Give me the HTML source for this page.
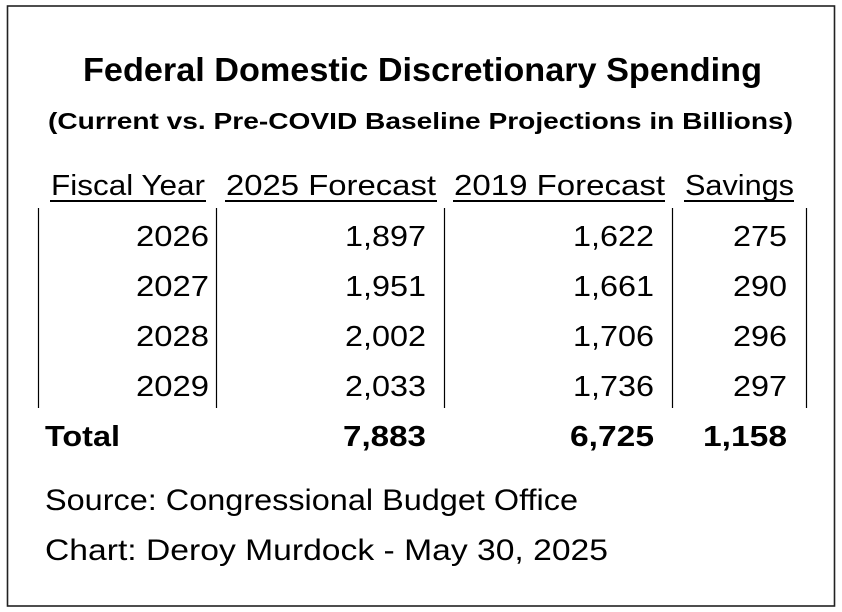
<!DOCTYPE html>
<html>
<head>
<meta charset="utf-8">
<style>
  html, body { margin:0; padding:0; background:#fff; }
  body { width:842px; height:612px; overflow:hidden; }
  svg { display:block; }
  text { font-family: "Liberation Sans", Arial, sans-serif; fill:#000; }
  .b { font-weight:bold; }
</style>
</head>
<body>
<svg width="842" height="612" viewBox="0 0 842 612" xmlns="http://www.w3.org/2000/svg">
  <rect x="0" y="0" width="842" height="612" fill="#fff"/>
  <rect x="7.5" y="6" width="827" height="600" fill="none" stroke="#222" stroke-width="1.6"/>

  <!-- Title -->
  <text class="b" x="83" y="81" font-size="33" textLength="679" lengthAdjust="spacingAndGlyphs">Federal Domestic Discretionary Spending</text>
  <text class="b" x="48" y="129" font-size="23.5" textLength="745" lengthAdjust="spacingAndGlyphs">(Current vs. Pre-COVID Baseline Projections in Billions)</text>

  <!-- Headers -->
  <text x="51" y="195" font-size="29" textLength="154" lengthAdjust="spacingAndGlyphs">Fiscal Year</text>
  <text x="226" y="195" font-size="29" textLength="210" lengthAdjust="spacingAndGlyphs">2025 Forecast</text>
  <text x="454" y="195" font-size="29" textLength="211" lengthAdjust="spacingAndGlyphs">2019 Forecast</text>
  <text x="685" y="195" font-size="29" textLength="109" lengthAdjust="spacingAndGlyphs">Savings</text>

  <!-- Underlines -->
  <rect x="50" y="200" width="156" height="2" fill="#000"/>
  <rect x="225" y="200" width="212" height="2" fill="#000"/>
  <rect x="453" y="200" width="212" height="2" fill="#000"/>
  <rect x="684" y="200" width="110" height="2" fill="#000"/>

  <!-- Vertical lines -->
  <g stroke="#000" stroke-width="1.2">
    <line x1="38.5" y1="208" x2="38.5" y2="408"/>
    <line x1="216.5" y1="208" x2="216.5" y2="408"/>
    <line x1="444.5" y1="208" x2="444.5" y2="408"/>
    <line x1="672.5" y1="208" x2="672.5" y2="408"/>
    <line x1="806.5" y1="208" x2="806.5" y2="408"/>
  </g>

  <!-- Data rows -->
  <g font-size="29">
    <text x="136" y="246" textLength="73" lengthAdjust="spacingAndGlyphs">2026</text>
    <text x="345" y="246" textLength="81" lengthAdjust="spacingAndGlyphs">1,897</text>
    <text x="573" y="246" textLength="81" lengthAdjust="spacingAndGlyphs">1,622</text>
    <text x="733" y="246" textLength="54" lengthAdjust="spacingAndGlyphs">275</text>

    <text x="136" y="296" textLength="73" lengthAdjust="spacingAndGlyphs">2027</text>
    <text x="345" y="296" textLength="81" lengthAdjust="spacingAndGlyphs">1,951</text>
    <text x="573" y="296" textLength="81" lengthAdjust="spacingAndGlyphs">1,661</text>
    <text x="733" y="296" textLength="54" lengthAdjust="spacingAndGlyphs">290</text>

    <text x="136" y="346" textLength="73" lengthAdjust="spacingAndGlyphs">2028</text>
    <text x="345" y="346" textLength="81" lengthAdjust="spacingAndGlyphs">2,002</text>
    <text x="573" y="346" textLength="81" lengthAdjust="spacingAndGlyphs">1,706</text>
    <text x="733" y="346" textLength="54" lengthAdjust="spacingAndGlyphs">296</text>

    <text x="136" y="396" textLength="73" lengthAdjust="spacingAndGlyphs">2029</text>
    <text x="345" y="396" textLength="81" lengthAdjust="spacingAndGlyphs">2,033</text>
    <text x="573" y="396" textLength="81" lengthAdjust="spacingAndGlyphs">1,736</text>
    <text x="733" y="396" textLength="54" lengthAdjust="spacingAndGlyphs">297</text>
  </g>

  <!-- Total row -->
  <g font-size="29" class="b">
    <text class="b" x="45" y="446" textLength="75" lengthAdjust="spacingAndGlyphs">Total</text>
    <text class="b" x="343" y="446" textLength="83" lengthAdjust="spacingAndGlyphs">7,883</text>
    <text class="b" x="570" y="446" textLength="84" lengthAdjust="spacingAndGlyphs">6,725</text>
    <text class="b" x="703" y="446" textLength="84" lengthAdjust="spacingAndGlyphs">1,158</text>
  </g>

  <!-- Footer -->
  <text x="45" y="510" font-size="30" textLength="533" lengthAdjust="spacingAndGlyphs">Source: Congressional Budget Office</text>
  <text x="45" y="560" font-size="30" textLength="563" lengthAdjust="spacingAndGlyphs">Chart: Deroy Murdock - May 30, 2025</text>
</svg>
</body>
</html>
